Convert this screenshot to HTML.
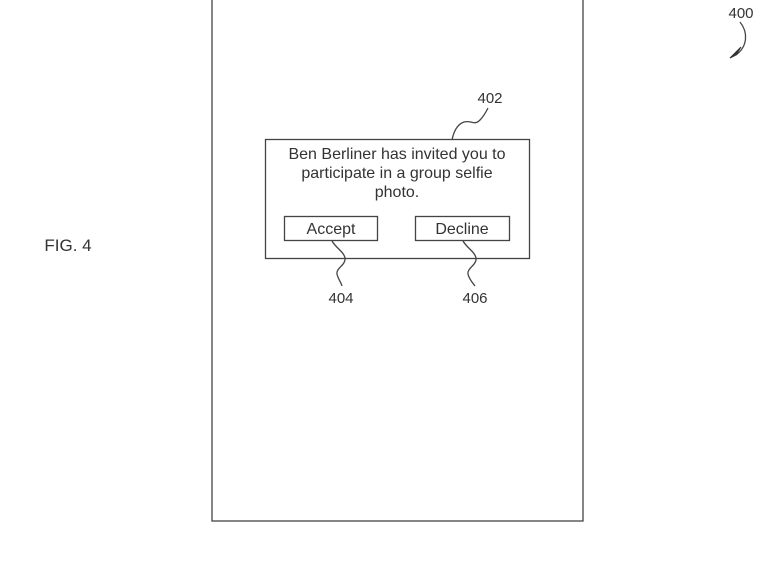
<!DOCTYPE html>
<html><head><style>
body{margin:0;background:#fff;width:768px;height:576px;overflow:hidden;font-family:"Liberation Sans",sans-serif;}
</style></head><body>
<svg width="768" height="576" xmlns="http://www.w3.org/2000/svg" style="position:absolute;left:0;top:0">
<g fill="none" stroke="#444" stroke-width="1.3">
<rect x="212" y="-2" width="371" height="523"/>
<rect x="265.5" y="139.5" width="264" height="119"/>
<rect x="284.5" y="216.5" width="93" height="24"/>
<rect x="415.5" y="216.5" width="94" height="24"/>
<path d="M452 140 C454 130,458 124,464 122 C472 120,474 126,480 120 C484 116,486 112,488 108"/>
<path d="M332 241 C336 248,344 252,345 258 C346 265,336 268,337 274 C338 279,341 282,342 286"/>
<path d="M463 241 C467 248,475 252,476 258 C477 265,467 268,468 274 C469 279,472 282,475 286"/>
<path d="M740 22 C748 32,748 46,736 55"/>
</g>
<path d="M730 58 L741 47 L736 55 Z" fill="#333" stroke="#333" stroke-width="1"/>
<g font-family="Liberation Sans, sans-serif" fill="#333" font-size="16" text-anchor="middle">
<text x="397" y="159">Ben Berliner has invited you to</text>
<text x="397" y="178">participate in a group selfie</text>
<text x="397" y="197">photo.</text>
<text x="331" y="234">Accept</text>
<text x="462" y="234">Decline</text>
<g font-size="15">
<text x="490" y="103">402</text>
<text x="341" y="303">404</text>
<text x="475" y="303">406</text>
<text x="741" y="18">400</text>
</g>
<text x="68" y="251" font-size="17">FIG. 4</text>
</g>
</svg>
</body></html>
